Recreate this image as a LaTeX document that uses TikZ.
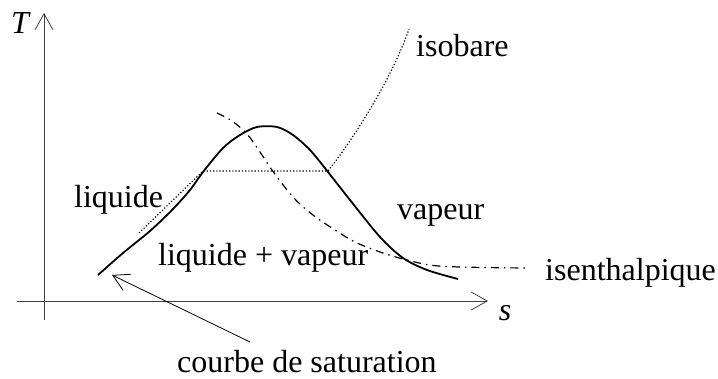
\documentclass[tikz,border=0pt]{standalone}
\usepackage{fontspec}
\setmainfont{Liberation Serif}
\usetikzlibrary{arrows.meta}

\begin{document}
\begin{tikzpicture}[
		x=1pt, y=-1pt,
		font=\fontsize{32}{38}\selectfont,
		axis/.style={draw=black!75, line width=0.8pt, -{Straight Barb[length=16pt, width=18pt]}},
		satcurve/.style={draw, line width=1.8pt},
		isobar/.style={draw, line width=1.2pt, dash pattern=on 1.2pt off 2pt},
		isenth/.style={draw, line width=1.2pt, dash pattern=on 8pt off 5pt on 1.5pt off 5pt},
		lbl/.style={inner sep=0pt, anchor=base west}
	]
		\useasboundingbox (0,0) rectangle (718,378);

		% Axes
		\coordinate (xstart) at (17,301);
		\coordinate (xend) at (488,301);
		\coordinate (ystart) at (44,320);
		\coordinate (yend) at (44,13);
		\draw[axis] (xstart) -- (xend);
		\draw[axis] (ystart) -- (yend);
		\node[inner sep=0pt] (Tlbl) at (21,23) {\textit{T}};
		\node[inner sep=0pt] (slbl) at (505,313) {\textit{s}};

		% Saturation curve
		\coordinate (satend) at (98,275);
		\draw[satcurve] plot[smooth, tension=0.5] coordinates {
			(satend) (123,253) (150,231) (173,209) (190,190) (203,172) (223,148)
			(240,135) (257,127) (277,127) (293,135) (310,150) (328,172) (350,200)
			(380,237) (403,258) (427,270) (458,279)};

		% Isobar
		\draw[isobar] (139,233) -- (203,171) -- (328,171)
			.. controls (355,137) and (393,76) .. (409,29);

		% Isenthalp
		\draw[isenth] plot[smooth, tension=0.6] coordinates {
			(217,113) (232,121) (247,134) (260,152) (272,170) (293,197)
			(313,215) (335,230) (355,242) (380,252) (403,259) (430,265)
			(460,267) (525,268)};

		% Labels
		\node[lbl] (isobarlbl) at (416,56) {isobare};
		\node[lbl] (liqlbl) at (74,207) {liquide};
		\node[lbl] (vaplbl) at (397,219) {vapeur};
		\node[lbl] (mixlbl) at (158,265) {liquide + vapeur};
		\node[lbl] (isenthlbl) at (545,280) {isenthalpique};
		\node[lbl] (satlbl) at (177,372) {courbe de saturation};

		% Pointer to the saturation curve
		\coordinate (satfoot) at (250,342);
		\draw[line width=0.8pt, -{Straight Barb[length=16pt, width=18pt]}]
			(satfoot) -- ([xshift=14pt]satend);
	\end{tikzpicture}
\end{document}
